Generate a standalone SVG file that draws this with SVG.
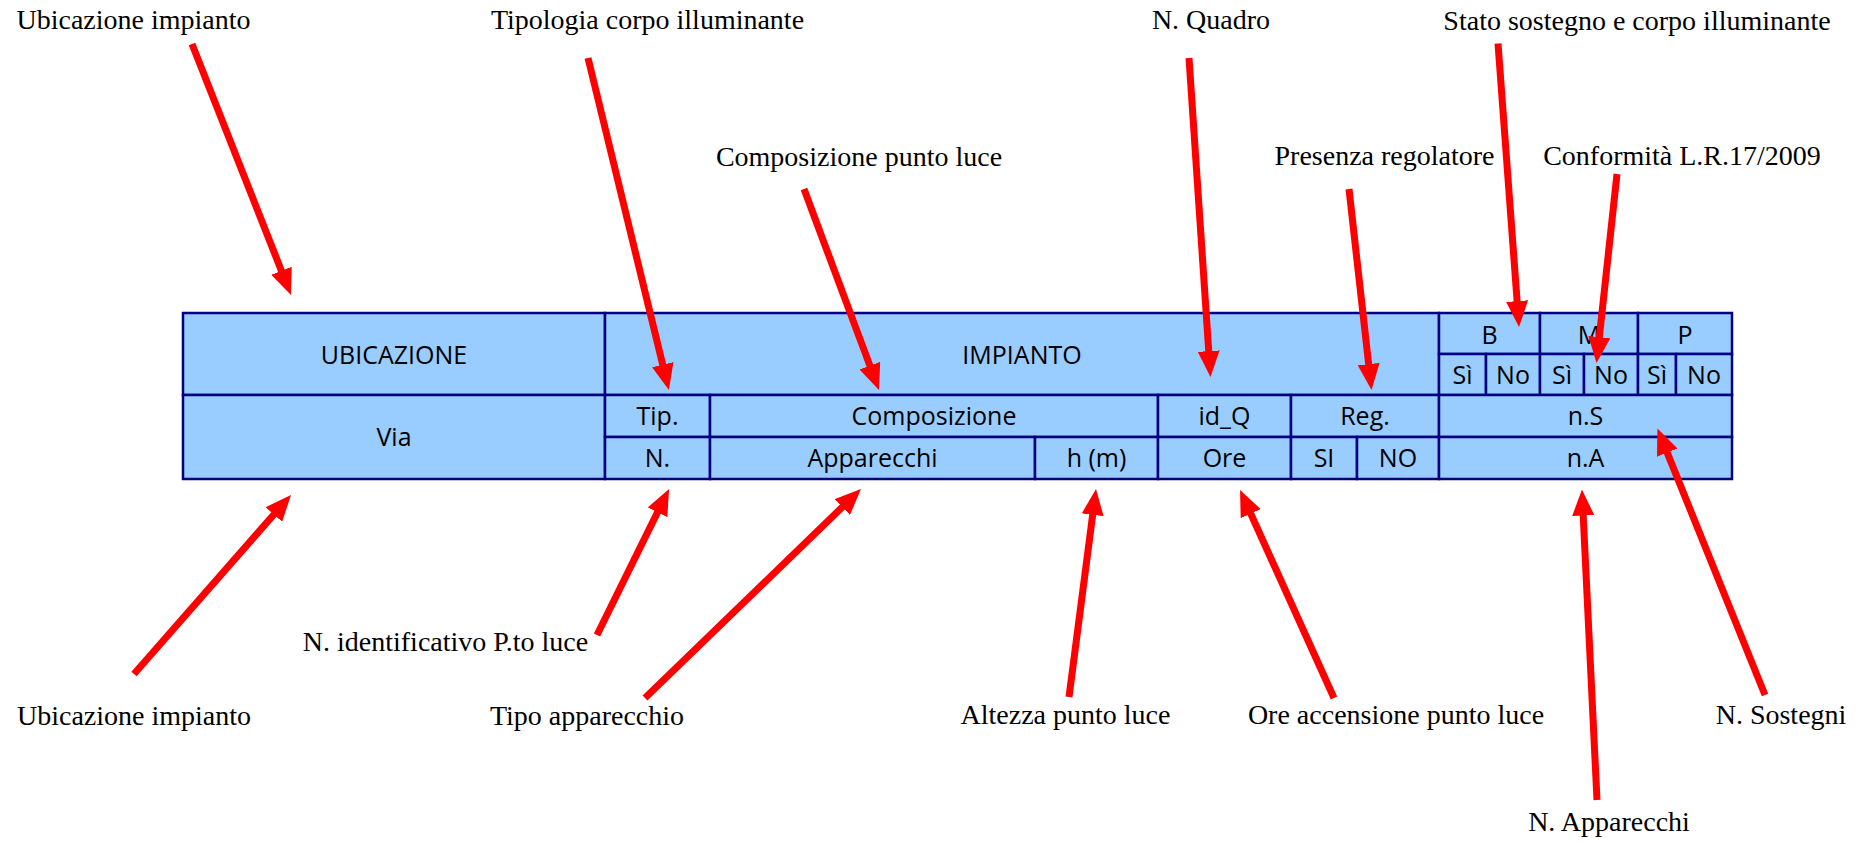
<svg xmlns="http://www.w3.org/2000/svg" width="1861" height="844" viewBox="0 0 1861 844">
<style>
.cell{fill:#99CCFF;stroke:#000080;stroke-width:2.5}
.ct{font-family:"Open Sans","Liberation Sans",sans-serif;font-size:25px;fill:#000;text-anchor:middle}
.lb{font-family:"Liberation Serif","DejaVu Serif",serif;font-size:28px;fill:#000;text-anchor:middle}
.ar{stroke:#FF0000;stroke-width:7;fill:none;marker-end:url(#ah)}
</style>
<defs>
<marker id="ah" markerUnits="userSpaceOnUse" markerWidth="26" markerHeight="22" refX="4" refY="11" orient="auto" viewBox="0 0 26 22">
<path d="M0,0 L26,11 L0,22 Z" fill="#FF0000"/>
</marker>
</defs>
<rect x="0" y="0" width="1861" height="844" fill="#FFFFFF"/>

<g id="table">
<g id="n-ubicazione"><rect class="cell" x="183" y="313" width="422" height="82"/><text class="ct" x="394" y="364">UBICAZIONE</text></g>
<g id="n-impianto"><rect class="cell" x="605" y="313" width="834" height="82"/><text class="ct" x="1022" y="364">IMPIANTO</text></g>
<g id="n-b"><rect class="cell" x="1439" y="313" width="101" height="41"/><text class="ct" x="1489.5" y="344">B</text></g>
<g id="n-m"><rect class="cell" x="1540" y="313" width="98" height="41"/><text class="ct" x="1589" y="344">M</text></g>
<g id="n-p"><rect class="cell" x="1638" y="313" width="94" height="41"/><text class="ct" x="1685" y="344">P</text></g>
<g id="n-b-si"><rect class="cell" x="1439" y="354" width="47" height="41"/><text class="ct" x="1462.5" y="384">Sì</text></g>
<g id="n-b-no"><rect class="cell" x="1486" y="354" width="54" height="41"/><text class="ct" x="1513" y="384">No</text></g>
<g id="n-m-si"><rect class="cell" x="1540" y="354" width="44" height="41"/><text class="ct" x="1562" y="384">Sì</text></g>
<g id="n-m-no"><rect class="cell" x="1584" y="354" width="54" height="41"/><text class="ct" x="1611" y="384">No</text></g>
<g id="n-p-si"><rect class="cell" x="1638" y="354" width="38" height="41"/><text class="ct" x="1657" y="384">Sì</text></g>
<g id="n-p-no"><rect class="cell" x="1676" y="354" width="56" height="41"/><text class="ct" x="1704" y="384">No</text></g>
<g id="n-via"><rect class="cell" x="183" y="395" width="422" height="84"/><text class="ct" x="394" y="446">Via</text></g>
<g id="n-tip"><rect class="cell" x="605" y="395" width="105" height="42"/><text class="ct" x="657.5" y="425">Tip.</text></g>
<g id="n-n"><rect class="cell" x="605" y="437" width="105" height="42"/><text class="ct" x="657.5" y="467">N.</text></g>
<g id="n-composizione"><rect class="cell" x="710" y="395" width="448" height="42"/><text class="ct" x="934" y="425">Composizione</text></g>
<g id="n-apparecchi"><rect class="cell" x="710" y="437" width="325" height="42"/><text class="ct" x="872.5" y="467">Apparecchi</text></g>
<g id="n-h"><rect class="cell" x="1035" y="437" width="123" height="42"/><text class="ct" x="1096.5" y="467">h (m)</text></g>
<g id="n-idq"><rect class="cell" x="1158" y="395" width="133" height="42"/><text class="ct" x="1224.5" y="425">id_Q</text></g>
<g id="n-ore"><rect class="cell" x="1158" y="437" width="133" height="42"/><text class="ct" x="1224.5" y="467">Ore</text></g>
<g id="n-reg"><rect class="cell" x="1291" y="395" width="148" height="42"/><text class="ct" x="1365" y="425">Reg.</text></g>
<g id="n-si"><rect class="cell" x="1291" y="437" width="66" height="42"/><text class="ct" x="1324" y="467">SI</text></g>
<g id="n-no"><rect class="cell" x="1357" y="437" width="82" height="42"/><text class="ct" x="1398" y="467">NO</text></g>
<g id="n-ns"><rect class="cell" x="1439" y="395" width="293" height="42"/><text class="ct" x="1585.5" y="425">n.S</text></g>
<g id="n-na"><rect class="cell" x="1439" y="437" width="293" height="42"/><text class="ct" x="1585.5" y="467">n.A</text></g>
</g>

<g id="labels">
<g id="l-ubicazione-top"><text class="lb" x="133.5" y="29">Ubicazione impianto</text></g>
<g id="l-tipologia"><text class="lb" x="647.5" y="29">Tipologia corpo illuminante</text></g>
<g id="l-quadro"><text class="lb" x="1211" y="29">N. Quadro</text></g>
<g id="l-stato"><text class="lb" x="1637" y="30">Stato sostegno e corpo illuminante</text></g>
<g id="l-composizione"><text class="lb" x="859" y="166">Composizione punto luce</text></g>
<g id="l-regolatore"><text class="lb" x="1384.5" y="165">Presenza regolatore</text></g>
<g id="l-conformita"><text class="lb" x="1682" y="165">Conformità L.R.17/2009</text></g>
<g id="l-identificativo"><text class="lb" x="445.5" y="651">N. identificativo P.to luce</text></g>
<g id="l-ubicazione-bottom"><text class="lb" x="134" y="725">Ubicazione impianto</text></g>
<g id="l-tipo"><text class="lb" x="587" y="725">Tipo apparecchio</text></g>
<g id="l-altezza"><text class="lb" x="1065.5" y="724">Altezza punto luce</text></g>
<g id="l-ore"><text class="lb" x="1396" y="724">Ore accensione punto luce</text></g>
<g id="l-sostegni"><text class="lb" x="1781" y="724">N. Sostegni</text></g>
<g id="l-apparecchi"><text class="lb" x="1609" y="831">N. Apparecchi</text></g>
</g>

<g id="connectors">
<line class="ar" x1="192" y1="44" x2="282.9" y2="274.5"/>
<line class="ar" x1="588" y1="58" x2="663.7" y2="368.6"/>
<line class="ar" x1="804" y1="189" x2="871.3" y2="369.4"/>
<line class="ar" x1="1189" y1="58" x2="1209" y2="355.1"/>
<line class="ar" x1="1349" y1="189" x2="1369.1" y2="368.1"/>
<line class="ar" x1="1498" y1="43.5" x2="1517.4" y2="305.1"/>
<line class="ar" x1="1617" y1="174" x2="1598.9" y2="341.1"/>
<line class="ar" x1="134" y1="674" x2="276.5" y2="511.5"/>
<line class="ar" x1="597" y1="635" x2="659.3" y2="508.7"/>
<line class="ar" x1="645" y1="698" x2="845.2" y2="504.3"/>
<line class="ar" x1="1069" y1="697" x2="1093.2" y2="510.8"/>
<line class="ar" x1="1334" y1="698" x2="1249.1" y2="510"/>
<line class="ar" x1="1597" y1="800" x2="1583" y2="511.5"/>
<line class="ar" x1="1765" y1="695" x2="1665.7" y2="448.9"/>
</g>
</svg>
